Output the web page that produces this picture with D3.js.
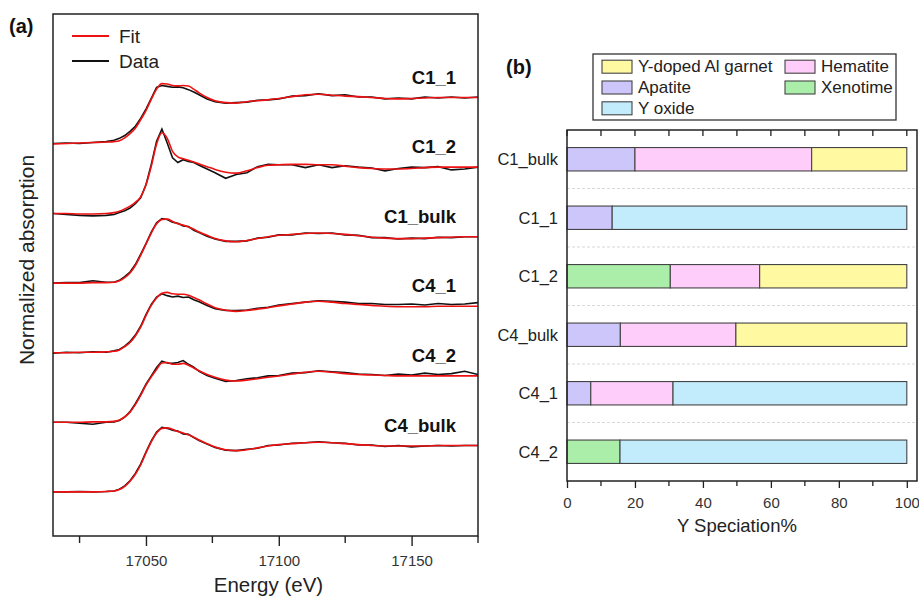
<!DOCTYPE html>
<html>
<head>
<meta charset="utf-8">
<script src="https://cdn.jsdelivr.net/npm/d3@7"></script>
<style>
  body { margin: 0; background: #fff; }
  svg { display: block; font-family: "Liberation Sans", Arial, sans-serif; }
</style>
</head>
<body>
<svg id="chart" width="919" height="596"></svg>
<script>
// ---- panel (a) : XANES spectra, normalized, one baseline offset per sample ----
var energy = [17015, 17020, 17025, 17030, 17035, 17038, 17040, 17042, 17044, 17046, 17048, 17050,
  17052, 17054, 17056, 17058, 17060, 17062, 17064, 17066, 17068, 17070, 17073, 17076, 17080, 17084,
  17088, 17092, 17096, 17100, 17105, 17110, 17115, 17120, 17125, 17130, 17135, 17140, 17145, 17150,
  17155, 17160, 17165, 17170, 17175];

var samples = ["C1_1", "C1_2", "C1_bulk", "C4_1", "C4_2", "C4_bulk"];
var offsets = [7.5, 6, 4.5, 3, 1.5, 0];

var fitC1_1 = [0.00,0.01,0.02,0.03,0.04,0.05,0.07,0.13,0.22,0.34,0.52,0.72,0.96,1.18,1.30,1.29,1.26,1.25,1.26,1.25,1.18,1.10,1.00,0.93,0.89,0.88,0.91,0.93,0.95,0.98,1.02,1.06,1.07,1.05,1.03,1.02,1.00,0.98,0.97,0.98,0.99,1.00,1.00,1.00,1.00];
var datC1_1 = [0.01,0.02,0.01,0.03,0.05,0.08,0.12,0.18,0.27,0.38,0.55,0.75,0.98,1.22,1.26,1.24,1.22,1.23,1.21,1.17,1.12,1.06,0.97,0.91,0.88,0.89,0.90,0.94,0.95,0.97,1.03,1.04,1.08,1.04,1.06,1.01,1.01,0.97,0.99,0.97,1.01,0.99,1.01,0.99,1.01];

var fitC1_2 = [0.00,0.00,-0.01,-0.01,0.00,0.02,0.05,0.10,0.16,0.24,0.36,0.62,1.02,1.50,1.74,1.62,1.34,1.22,1.18,1.15,1.11,1.07,1.01,0.95,0.89,0.87,0.92,0.99,1.04,1.05,1.06,1.06,1.05,1.05,1.02,0.99,0.97,0.96,0.96,0.97,0.99,1.00,1.00,1.00,1.00];
var datC1_2 = [0.00,-0.02,-0.04,-0.05,-0.04,-0.02,0.02,0.06,0.12,0.21,0.34,0.62,1.06,1.56,1.82,1.52,1.20,1.10,1.16,1.12,1.10,1.04,0.96,0.88,0.76,0.84,0.88,1.01,1.06,1.05,1.05,0.99,1.05,0.99,1.03,1.00,0.98,0.92,0.97,1.00,0.99,1.01,0.94,0.96,1.00];

var fitC1_bulk = [0.00,0.00,0.00,0.01,0.01,0.02,0.05,0.12,0.22,0.38,0.60,0.84,1.08,1.28,1.37,1.38,1.33,1.28,1.25,1.21,1.16,1.10,1.03,0.96,0.91,0.89,0.92,0.96,1.00,1.03,1.05,1.07,1.08,1.07,1.05,1.02,0.99,0.97,0.96,0.96,0.97,0.98,0.99,1.00,1.00];
var datC1_bulk = [0.00,0.01,0.01,0.05,0.02,0.02,0.06,0.14,0.24,0.40,0.62,0.85,1.10,1.30,1.39,1.37,1.31,1.29,1.23,1.22,1.14,1.09,1.01,0.95,0.90,0.90,0.91,0.97,0.99,1.04,1.04,1.08,1.07,1.08,1.04,1.03,0.98,0.98,0.95,0.97,0.96,0.99,0.98,1.00,1.00];

var fitC4_1 = [0.00,0.00,0.01,0.01,0.02,0.03,0.06,0.13,0.22,0.36,0.55,0.80,1.02,1.18,1.28,1.30,1.27,1.26,1.26,1.24,1.19,1.14,1.05,0.97,0.92,0.89,0.91,0.94,0.97,1.01,1.05,1.09,1.11,1.09,1.06,1.04,1.02,1.00,0.99,0.99,0.99,1.00,1.00,1.00,1.00];
var datC4_1 = [-0.01,0.01,0.00,0.02,0.01,0.04,0.07,0.14,0.24,0.38,0.57,0.82,1.04,1.20,1.27,1.23,1.20,1.22,1.19,1.20,1.14,1.10,1.02,0.95,0.91,0.91,0.92,0.96,0.98,1.03,1.06,1.09,1.12,1.11,1.09,1.06,1.06,1.04,1.04,1.05,1.03,1.06,1.04,1.05,1.08];

var fitC4_2 = [0.00,0.00,0.00,0.01,0.01,0.02,0.05,0.12,0.22,0.38,0.58,0.80,0.98,1.14,1.28,1.29,1.25,1.25,1.27,1.23,1.17,1.11,1.03,0.97,0.91,0.89,0.91,0.94,0.97,1.00,1.04,1.08,1.10,1.08,1.05,1.03,1.02,1.01,1.00,1.00,1.00,1.00,1.00,1.00,1.00];
var datC4_2 = [0.00,0.00,-0.02,-0.04,0.00,0.01,0.04,0.11,0.23,0.40,0.60,0.82,1.00,1.18,1.32,1.28,1.27,1.29,1.33,1.25,1.19,1.10,1.01,0.95,0.88,0.90,0.94,0.96,1.00,1.01,1.06,1.07,1.11,1.09,1.07,1.04,1.03,1.01,1.04,1.02,1.06,1.03,1.05,1.10,1.03];

var fitC4_bulk = [0.00,0.00,0.00,0.00,0.01,0.02,0.05,0.12,0.23,0.38,0.58,0.84,1.08,1.27,1.37,1.38,1.35,1.30,1.27,1.23,1.18,1.12,1.04,0.97,0.91,0.89,0.91,0.95,0.99,1.02,1.04,1.06,1.07,1.06,1.04,1.02,1.00,0.99,0.99,0.99,0.99,1.00,1.00,1.00,1.00];
var datC4_bulk = [0.00,0.00,0.01,0.00,0.01,0.02,0.06,0.13,0.24,0.40,0.60,0.86,1.10,1.29,1.39,1.37,1.33,1.31,1.25,1.24,1.17,1.11,1.03,0.96,0.90,0.89,0.92,0.94,1.00,1.01,1.05,1.06,1.08,1.06,1.05,1.01,1.01,0.98,1.00,0.97,0.99,1.00,0.99,1.00,1.00];

var fits = [fitC1_1, fitC1_2, fitC1_bulk, fitC4_1, fitC4_2, fitC4_bulk];
var datas = [datC1_1, datC1_2, datC1_bulk, datC4_1, datC4_2, datC4_bulk];
var energyMajor = [17050, 17100, 17150];
var energyMinor = [17025, 17075, 17125, 17175];

// ---- panel (b) : Y speciation (%) ----
var barSamples = ["C1_bulk", "C1_1", "C1_2", "C4_bulk", "C4_1", "C4_2"];
var phases = ["Apatite", "Xenotime", "Hematite", "Y-doped Al garnet", "Y oxide"];
var apatite  = [20.0, 13.3, 0,    15.7, 7.0,  0];
var xenotime = [0,    0,    30.4, 0,    0,    15.6];
var hematite = [52.0, 0,    26.3, 34.0, 24.2, 0];
var garnet   = [28.0, 0,    43.3, 50.3, 0,    0];
var yOxide   = [0,    86.7, 0,    0,    68.8, 84.4];
var legendOrder = ["Y-doped Al garnet", "Apatite", "Y oxide", "Hematite", "Xenotime"];
var pctMajor = [0, 20, 40, 60, 80, 100];
var pctMinor = [10, 30, 50, 70, 90];

var phaseColor = {
  "Apatite": "#cdc6fa",
  "Xenotime": "#aaeeaa",
  "Hematite": "#ffcdfa",
  "Y-doped Al garnet": "#fff9a2",
  "Y oxide": "#c2ecfc"
};

var svg = d3.select("#chart");
var ink = "#222";

// ================= panel (a) =================
var aL = 53, aR = 478, aT = 14, aB = 536;
var x = d3.scaleLinear().domain([17015, 17175]).range([aL, aR]);
var y = d3.scaleLinear().domain([-0.95, 10.3]).range([aB, aT]);

var gA = svg.append("g");
gA.append("clipPath").attr("id", "clipA").append("rect")
  .attr("x", aL).attr("y", aT).attr("width", aR - aL).attr("height", aB - aT);

var dataLine = d3.line().x(function(d) { return x(d[0]); }).y(function(d) { return y(d[1]); });
var fitLine = d3.line().x(function(d) { return x(d[0]); }).y(function(d) { return y(d[1]); })
  .curve(d3.curveMonotoneX);

var plot = gA.append("g").attr("clip-path", "url(#clipA)");
samples.forEach(function(s, i) {
  var dPts = energy.map(function(e, j) { return [e, datas[i][j] + offsets[i]]; });
  var fPts = energy.map(function(e, j) { return [e, fits[i][j] + offsets[i]]; });
  plot.append("path").attr("d", dataLine(dPts))
    .attr("fill", "none").attr("stroke", "#111").attr("stroke-width", 1.6);
  plot.append("path").attr("d", fitLine(fPts))
    .attr("fill", "none").attr("stroke", "#ee1111").attr("stroke-width", 1.6);
  gA.append("text").attr("x", 456).attr("y", y(offsets[i] + 1.44))
    .attr("text-anchor", "end").attr("dominant-baseline", "central")
    .attr("font-size", 18.5).attr("font-weight", "bold").attr("fill", "#111").text(s);
});

// bottom axis
var axA = gA.append("g").attr("transform", "translate(0," + aB + ")");
axA.call(d3.axisBottom(x).tickValues(energyMajor).tickSize(10).tickFormat(d3.format("d")));
axA.call(function(g) {
  g.selectAll(".minor").data(energyMinor).enter().append("line").attr("class", "minor")
    .attr("x1", function(d) { return x(d); }).attr("x2", function(d) { return x(d); })
    .attr("y1", 0).attr("y2", 7).attr("stroke", ink).attr("stroke-width", 1.4);
});
axA.select(".domain").remove();
axA.selectAll(".tick line").attr("stroke", ink).attr("stroke-width", 1.4);
axA.selectAll(".tick text").attr("font-size", 15).attr("fill", "#333").attr("dy", "1.1em")
  .attr("font-family", "Liberation Sans, Arial, sans-serif");

gA.append("rect").attr("x", aL).attr("y", aT).attr("width", aR - aL).attr("height", aB - aT)
  .attr("fill", "none").attr("stroke", ink).attr("stroke-width", 1.5);

gA.append("text").attr("x", (aL + aR) / 2 + 3).attr("y", 584).attr("text-anchor", "middle")
  .attr("dominant-baseline", "central").attr("font-size", 20.5).attr("fill", "#222").text("Energy (eV)");
gA.append("text").attr("transform", "translate(26,260) rotate(-90)").attr("text-anchor", "middle")
  .attr("dominant-baseline", "central").attr("font-size", 21).attr("fill", "#222").text("Normalized absorption");
gA.append("text").attr("x", 9).attr("y", 26).attr("dominant-baseline", "central")
  .attr("font-size", 20).attr("font-weight", "bold").attr("fill", "#111").text("(a)");

// legend (a)
var legA = [["Fit", "#ee1111"], ["Data", "#111"]];
legA.forEach(function(l, i) {
  var ly = 36 + i * 25;
  gA.append("line").attr("x1", 72).attr("x2", 109).attr("y1", ly).attr("y2", ly)
    .attr("stroke", l[1]).attr("stroke-width", 1.8);
  gA.append("text").attr("x", 119).attr("y", ly).attr("dominant-baseline", "central")
    .attr("font-size", 19).attr("fill", "#222").text(l[0]);
});

// ================= panel (b) =================
var bL = 567, bR = 917, bT = 130, bB = 481;
var xb = d3.scaleLinear().domain([0, 103]).range([bL, bR]);
var yb = d3.scaleBand().domain(barSamples).range([bT, bB]).paddingInner(0.6).paddingOuter(0.3);

var gB = svg.append("g");

// dashed separators between rows
var seps = barSamples.slice(1).map(function(s) { return yb(s) - yb.step() * yb.paddingInner() / 2; });
gB.selectAll(".sep").data(seps).enter().append("line")
  .attr("x1", bL).attr("x2", bR).attr("y1", function(d) { return d; }).attr("y2", function(d) { return d; })
  .attr("stroke", "#d8d8d8").attr("stroke-width", 1).attr("stroke-dasharray", "3,2");

var table = barSamples.map(function(s, i) {
  return { sample: s, "Apatite": apatite[i], "Xenotime": xenotime[i], "Hematite": hematite[i],
    "Y-doped Al garnet": garnet[i], "Y oxide": yOxide[i] };
});
var stacked = d3.stack().keys(phases)(table);

stacked.forEach(function(layer) {
  gB.selectAll(".seg-" + layer.index).data(layer.filter(function(d) { return d[1] - d[0] > 0; }))
    .enter().append("rect")
    .attr("x", function(d) { return xb(d[0]); })
    .attr("y", function(d) { return yb(d.data.sample); })
    .attr("width", function(d) { return xb(d[1]) - xb(d[0]); })
    .attr("height", yb.bandwidth())
    .attr("fill", phaseColor[layer.key]).attr("stroke", "#444").attr("stroke-width", 1.1);
});

// category labels
gB.selectAll(".cat").data(barSamples).enter().append("text")
  .attr("x", 558).attr("y", function(d) { return yb(d) + yb.bandwidth() / 2; })
  .attr("text-anchor", "end").attr("dominant-baseline", "central")
  .attr("font-size", 16.5).attr("fill", "#222").text(function(d) { return d; });

// bottom axis
var axB = gB.append("g").attr("transform", "translate(0," + bB + ")");
axB.call(d3.axisBottom(xb).tickValues(pctMajor).tickSize(7).tickFormat(d3.format("d")));
axB.select(".domain").remove();
axB.selectAll(".tick line").attr("stroke", ink).attr("stroke-width", 1.3);
axB.selectAll(".tick text").attr("font-size", 15).attr("fill", "#333").attr("dy", "1.1em")
  .attr("font-family", "Liberation Sans, Arial, sans-serif");
axB.selectAll(".minor").data(pctMinor).enter().append("line").attr("class", "minor")
  .attr("x1", function(d) { return xb(d); }).attr("x2", function(d) { return xb(d); })
  .attr("y1", 0).attr("y2", 5).attr("stroke", ink).attr("stroke-width", 1.3);

// top ticks, pointing into the plot
gB.selectAll(".ttick").data(pctMajor.concat(pctMinor)).enter().append("line")
  .attr("x1", function(d) { return xb(d); }).attr("x2", function(d) { return xb(d); })
  .attr("y1", bT).attr("y2", bT + 6).attr("stroke", ink).attr("stroke-width", 1.3);

gB.append("rect").attr("x", bL).attr("y", bT).attr("width", bR - bL).attr("height", bB - bT)
  .attr("fill", "none").attr("stroke", ink).attr("stroke-width", 1.5);

gB.append("text").attr("x", (xb(0) + xb(100)) / 2).attr("y", 525).attr("text-anchor", "middle")
  .attr("dominant-baseline", "central").attr("font-size", 18.5).attr("fill", "#222").text("Y Speciation%");
gB.append("text").attr("x", 506).attr("y", 67).attr("dominant-baseline", "central")
  .attr("font-size", 20).attr("font-weight", "bold").attr("fill", "#111").text("(b)");

// legend (b)
gB.append("rect").attr("x", 593).attr("y", 54).attr("width", 303).attr("height", 66)
  .attr("fill", "#fff").attr("stroke", "#333").attr("stroke-width", 1.3);
legendOrder.forEach(function(p, i) {
  var col = Math.floor(i / 3), row = i % 3;
  var lx = col === 0 ? 602 : 785;
  var ly = 66.7 + row * 20.8;
  gB.append("rect").attr("x", lx).attr("y", ly - 6.5).attr("width", 30).attr("height", 13)
    .attr("fill", phaseColor[p]).attr("stroke", "#444").attr("stroke-width", 1.1);
  gB.append("text").attr("x", lx + 36).attr("y", ly).attr("dominant-baseline", "central")
    .attr("font-size", 17).attr("fill", "#222").text(p);
});
</script>
</body>
</html>
